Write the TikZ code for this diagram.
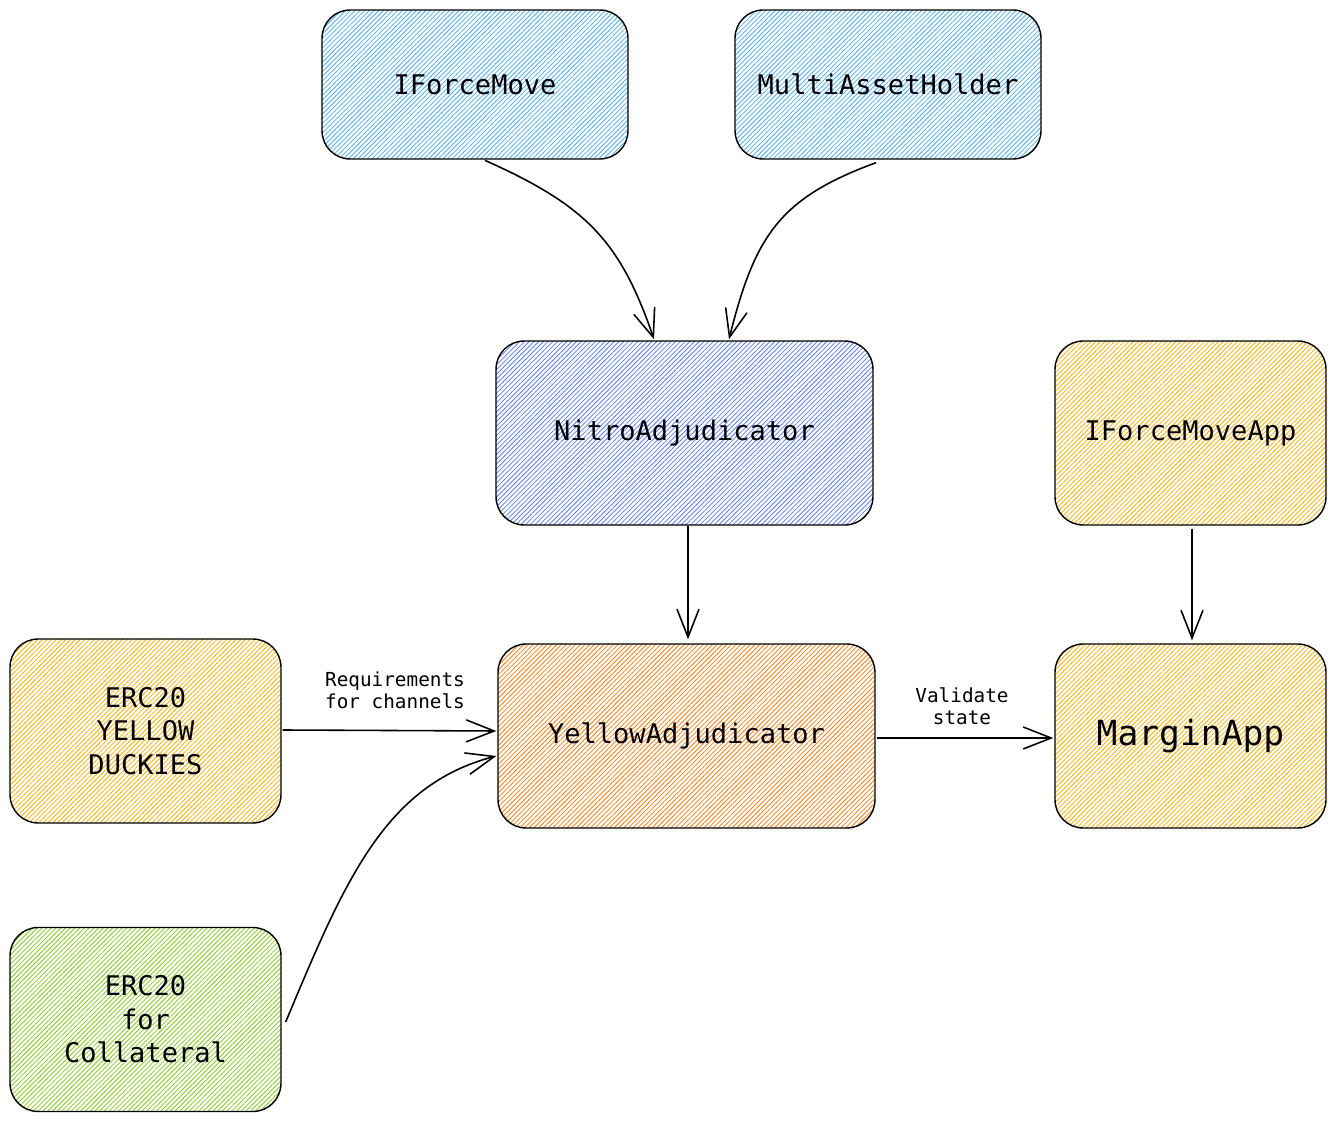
\documentclass[tikz,border=0pt]{standalone}
\usepackage{fontspec}
\setmonofont{DejaVu Sans Mono}
\usetikzlibrary{arrows.meta, positioning, calc, patterns.meta}

\definecolor{hblue}{HTML}{4DABF7}
\definecolor{hindigo}{HTML}{5C7CFA}
\definecolor{hyellow}{HTML}{FAB005}
\definecolor{horange}{HTML}{FD7E14}
\definecolor{hgreen}{HTML}{82C91E}

\begin{document}
\begin{tikzpicture}[x=0.02cm, y=-0.02cm, >={Straight Barb[length=0.56cm, width=0.44cm]},
  block/.style={draw, line width=0.8pt, rounded corners=16pt, inner sep=0pt,
    align=center, font=\ttfamily\fontsize{15.4}{19}\selectfont,
    pattern={Lines[angle=45, distance=1.9pt, line width=0.45pt]}},
  topblock/.style={block, minimum width=6.12cm, minimum height=2.98cm},
  wideblock/.style={block, minimum width=7.54cm, minimum height=3.68cm},
  smallblock/.style={block, minimum width=5.42cm, minimum height=3.68cm},
  link/.style={->, line width=0.9pt},
  lbl/.style={align=center, font=\ttfamily\fontsize{11}{12.5}\selectfont}]
  \useasboundingbox (0,0) rectangle (1336,1121);
  % contracts
  \node[topblock, pattern color=hblue] (ifm) at (475,84.5) {IForceMove};
  \node[topblock, pattern color=hblue] (mah) at (888,84.5) {MultiAssetHolder};
  \node[wideblock, pattern color=hindigo] (nitro) at (684.5,433) {NitroAdjudicator};
  \node[smallblock, pattern color=hyellow] (ifmapp) at (1190.5,433) {IForceMoveApp};
  \node[smallblock, pattern color=hyellow] (duck) at (145.5,731) {ERC20\\YELLOW\\DUCKIES};
  \node[wideblock, pattern color=horange] (yellow) at (686.5,736) {YellowAdjudicator};
  \node[smallblock, pattern color=hyellow, font=\ttfamily\fontsize{19.7}{23}\selectfont] (margin) at (1190.5,736) {MarginApp};
  \node[smallblock, pattern color=hgreen] (coll) at (145.5,1019.5) {ERC20\\for\\Collateral};
  % inheritance
  \draw[link] ($(ifm.south)+(10,1)$) .. controls (585,205) and (620,240) .. ($(nitro.north)+(-30.5,-1)$);
  \draw[link] ($(mah.south)+(-12,3)$) .. controls (780,198) and (755,235) .. ($(nitro.north)+(44.5,-1)$);
  \draw[link] ($(nitro.south)+(3.5,0)$) -- ($(yellow.north)+(1.5,-4)$);
  \draw[link] ($(ifmapp.south)+(1.5,3)$) -- ($(margin.north)+(1.5,-3)$);
  % usage
  \draw[link] ($(duck.east)+(1,-1)$) -- ($(yellow.west)+(-1,-5)$);
  \draw[link] ($(coll.east)+(4,2.5)$) .. controls (345,880) and (385,785) .. ($(yellow.west)+(-1,20)$);
  \draw[link] ($(yellow.east)+(1,2)$) -- ($(margin.west)+(-1,2)$);
  % labels
  \node[lbl] (req) at (395,690) {Requirements\\for channels};
  \node[lbl] (val) at (962,706) {Validate\\state};
\end{tikzpicture}
\end{document}
